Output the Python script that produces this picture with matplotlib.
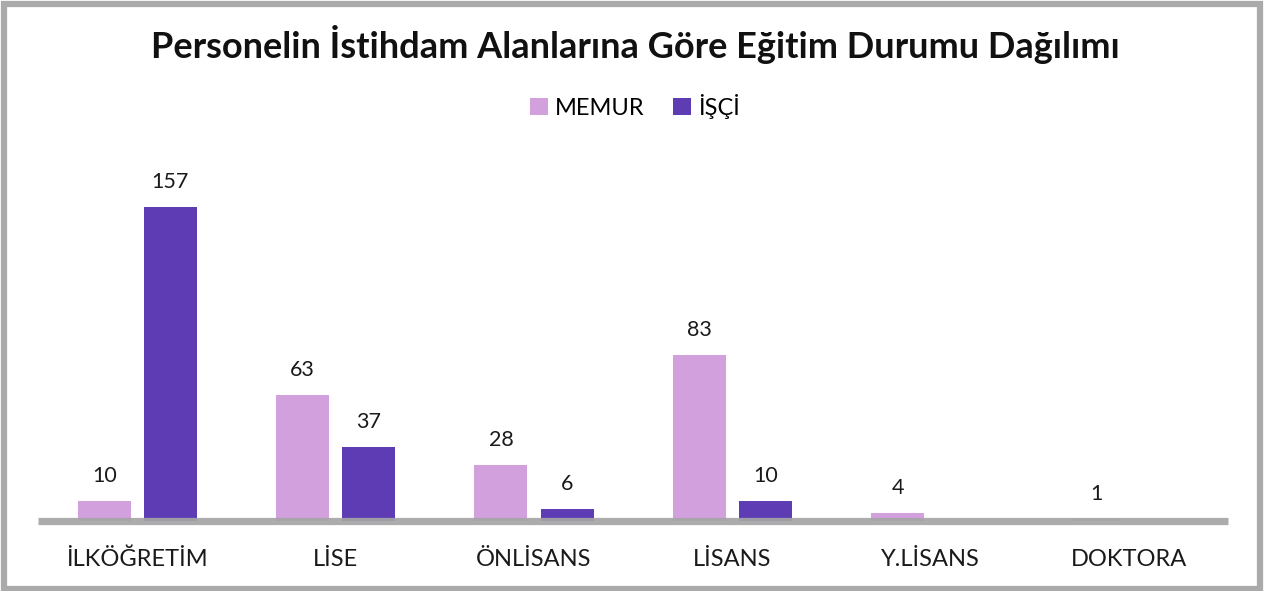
import matplotlib
matplotlib.use('Agg')
import matplotlib.pyplot as plt
import numpy as np

categories = ['İLKÖĞRETİM', 'LİSE', 'ÖNLİSANS', 'LİSANS', 'Y.LİSANS', 'DOKTORA']
memur = [10, 63, 28, 83, 4, 1]
isci = [157, 37, 6, 10, 0, 0]

plt.rcParams['font.family'] = ['Lato', 'DejaVu Sans']

fig = plt.figure(figsize=(12.7, 5.91), dpi=100)
ax = fig.add_axes([0.0299, 0.1184, 0.9371, 0.643])

x = np.arange(len(categories))
w = 0.267
b1 = ax.bar(x - 0.166, memur, w, color='#d3a0de', label='MEMUR', zorder=2)
b2 = ax.bar(x + 0.168, isci, w, color='#5e3db4', label='İŞÇİ', zorder=2)

for bars, vals in ((b1, memur), (b2, isci)):
    for r, v in zip(bars, vals):
        if v == 0:
            continue
        ax.annotate(str(v), (r.get_x() + r.get_width() / 2, v), xytext=(0, 11),
                    textcoords='offset points', ha='center', va='bottom',
                    fontsize=15.5, color='#1a1a1a')

ax.axhline(0, color='#a5a5a5', lw=5.2, zorder=3, alpha=0.92, clip_on=False,
           solid_capstyle='butt')
ax.set_xlim(-0.5, len(categories) - 0.5)
ax.set_ylim(0, 190)
ax.set_xticks(x)
ax.set_xticklabels(categories, fontsize=17, color='#1a1a1a')
ax.tick_params(axis='x', length=0, pad=20)
ax.set_yticks([])
for s in ax.spines.values():
    s.set_visible(False)

fig.text(0.5, 0.925, 'Personelin İstihdam Alanlarına Göre Eğitim Durumu Dağılımı',
         ha='center', va='center', fontsize=26, fontweight='bold', color='#111111')
fig.legend(loc='center', bbox_to_anchor=(0.5, 0.82), ncol=2, frameon=False,
           fontsize=17, handlelength=0.75, handleheight=0.75, handletextpad=0.3,
           columnspacing=1.2)

# gray frame
fig.patches.append(plt.Rectangle((0.0035, 0.004), 0.9885, 0.99, transform=fig.transFigure,
                                 fill=False, edgecolor='#aaaaaa', lw=4.5))

plt.savefig('out.png', dpi=100)
